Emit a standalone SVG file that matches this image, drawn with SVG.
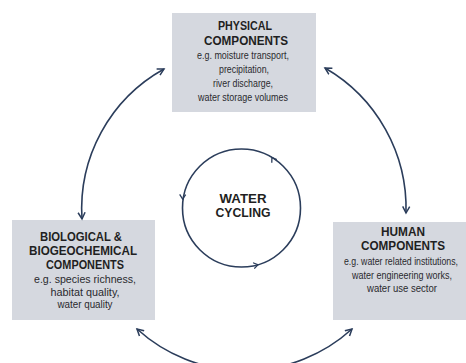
<svg xmlns="http://www.w3.org/2000/svg" width="466" height="363" viewBox="0 0 466 363">
<defs>
<style>
.box{fill:#d5d8df;}
.t{font-family:"Liberation Sans",Arial,sans-serif;font-weight:bold;font-size:12.5px;fill:#1f1f22;text-anchor:middle;}
.b{font-family:"Liberation Sans",Arial,sans-serif;font-size:10px;fill:#2a2a2e;text-anchor:middle;}
.arc{fill:none;stroke:#2b3d5b;stroke-width:1.6;}
</style>
<marker id="ah" markerUnits="userSpaceOnUse" markerWidth="10" markerHeight="10" refX="7" refY="4" orient="auto-start-reverse" viewBox="0 0 10 8">
<path d="M0.5,0.5 L7,4 L0.5,7.5" fill="none" stroke="#2b3d5b" stroke-width="1.5"/>
</marker>
<marker id="ch" markerUnits="userSpaceOnUse" markerWidth="8" markerHeight="8" refX="5" refY="3.5" orient="auto" viewBox="0 0 8 7">
<path d="M0.5,0.5 L5,3.5 L0.5,6.5" fill="none" stroke="#2b3d5b" stroke-width="1.3"/>
</marker>
</defs>
<rect width="466" height="363" fill="#ffffff"/>
<g id="physical">
<rect class="box" x="172" y="13" width="144" height="99"/>
<text class="t" x="245" y="30" textLength="54" lengthAdjust="spacingAndGlyphs">PHYSICAL</text>
<text class="t" x="246" y="45" textLength="84" lengthAdjust="spacingAndGlyphs">COMPONENTS</text>
<text class="b" x="243" y="59" textLength="92" lengthAdjust="spacingAndGlyphs">e.g. moisture transport,</text>
<text class="b" x="244" y="73" textLength="50" lengthAdjust="spacingAndGlyphs">precipitation,</text>
<text class="b" x="243" y="87" textLength="60" lengthAdjust="spacingAndGlyphs">river discharge,</text>
<text class="b" x="243" y="101" textLength="90" lengthAdjust="spacingAndGlyphs">water storage volumes</text>
</g>
<g id="biological">
<rect class="box" x="12" y="220" width="143" height="100"/>
<text class="t" x="81" y="241" textLength="82" lengthAdjust="spacingAndGlyphs">BIOLOGICAL &amp;</text>
<text class="t" x="83" y="255" textLength="108" lengthAdjust="spacingAndGlyphs">BIOGEOCHEMICAL</text>
<text class="t" x="85" y="269" textLength="78" lengthAdjust="spacingAndGlyphs">COMPONENTS</text>
<text class="b" x="85" y="283" textLength="102" lengthAdjust="spacingAndGlyphs">e.g. species richness,</text>
<text class="b" x="85" y="296" textLength="69" lengthAdjust="spacingAndGlyphs">habitat quality,</text>
<text class="b" x="85" y="308" textLength="55" lengthAdjust="spacingAndGlyphs">water quality</text>
</g>
<g id="human">
<rect class="box" x="333" y="222" width="133" height="98"/>
<text class="t" x="403" y="236" textLength="44" lengthAdjust="spacingAndGlyphs">HUMAN</text>
<text class="t" x="403" y="250" textLength="84" lengthAdjust="spacingAndGlyphs">COMPONENTS</text>
<text class="b" x="401" y="265" font-size="9.3" textLength="114" lengthAdjust="spacingAndGlyphs">e.g. water related institutions,</text>
<text class="b" x="402" y="279" textLength="100" lengthAdjust="spacingAndGlyphs">water engineering works,</text>
<text class="b" x="402" y="292" textLength="70" lengthAdjust="spacingAndGlyphs">water use sector</text>
</g>
<g id="water-cycling">
<circle cx="241.5" cy="208" r="59" fill="none" stroke="#2b3d5b" stroke-width="1.6"/>
<text class="t" x="243" y="203" textLength="47" lengthAdjust="spacingAndGlyphs">WATER</text>
<text class="t" x="243" y="217" textLength="55" lengthAdjust="spacingAndGlyphs">CYCLING</text>
</g>
<g id="connectors">
<path class="arc" d="M82 219 A160 160 0 0 1 164 69" marker-start="url(#ah)" marker-end="url(#ah)"/>
<path class="arc" d="M325 68 A162 162 0 0 1 406 213" marker-start="url(#ah)" marker-end="url(#ah)"/>
<path class="arc" d="M352 329 A160 160 0 0 1 137 329" marker-start="url(#ah)" marker-end="url(#ah)"/>
<path d="M274.5 161.9 A59 59 0 0 0 271.9 157.4" fill="none" stroke="none" marker-end="url(#ch)"/>
<path d="M182.9 194 A59 59 0 0 0 182.6 199" fill="none" stroke="none" marker-end="url(#ch)"/>
<path d="M253 265.6 A59 59 0 0 0 258 264.7" fill="none" stroke="none" marker-end="url(#ch)"/>
</g>
</svg>
